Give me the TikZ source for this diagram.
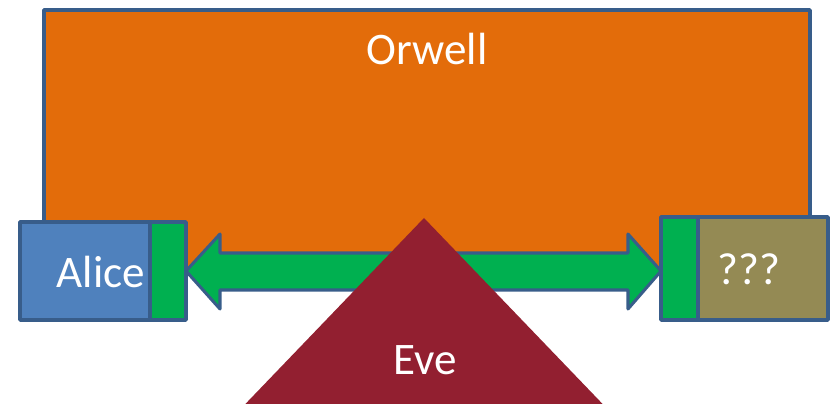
\documentclass[tikz,border=0pt]{standalone}
\usepackage{fontspec}
\newfontfamily\calibfont{Carlito}
\usetikzlibrary{positioning,calc}
\definecolor{orwellorange}{HTML}{E36C0A}
\definecolor{alicefill}{HTML}{4F81BD}
\definecolor{portgreen}{HTML}{00B050}
\definecolor{unknownolive}{HTML}{948A54}
\definecolor{evered}{HTML}{921F30}
\definecolor{outline}{HTML}{385D8A}

\begin{document}
\begin{tikzpicture}[x=0.03cm, y=-0.03cm, node distance=0pt,
  panel/.style={draw=outline, line width=3pt, line join=round, inner sep=0pt, outer sep=0pt},
  txt/.style={text=white, font=\calibfont\fontsize{38.5}{44}\selectfont, inner sep=0pt}]
  \useasboundingbox (0,0) rectangle (831,404);
  % the big box and the two ends
  \node[panel, fill=orwellorange, minimum width=22.98cm, minimum height=7.8cm] (orwell) at (427,140) {};
  \node[panel, fill=alicefill, minimum width=3.9cm, minimum height=2.94cm] (alice) at (85,271) {};
  \node[panel, fill=portgreen, right=of alice, minimum width=1.08cm, minimum height=2.94cm] (aport) {};
  \node[panel, fill=portgreen, minimum width=1.11cm, minimum height=3.09cm] (qport) at (679.5,268.5) {};
  \node[panel, fill=unknownolive, right=of qport, minimum width=3.9cm, minimum height=3.09cm] (unknown) {};
  % double arrow between the ports
  \coordinate (ltip) at (aport.east);
  \coordinate (rtip) at (qport.west |- aport.east);
  \draw[draw=outline, line width=2.6pt, line join=round, fill=portgreen]
    (ltip) -- ++(34,-37) -- ++(0,19) -- ($(rtip)+(-33,-18)$) -- ++(0,-19) -- (rtip)
    -- ++(-33,38) -- ++(0,-19) -- ($(ltip)+(34,19)$) -- ++(0,19) -- cycle;
  \fill[evered] (424,218) -- (618,420) -- (230,420) -- cycle;
  \node[txt] (orwelltext) at (427,49) {Orwell};
  \node[txt] (alicetext) at (101,272) {Alice};
  \node[txt] (unknowntext) at (749,269) {???};
  \node[txt] (evetext) at (425,360) {Eve};
\end{tikzpicture}
\end{document}
